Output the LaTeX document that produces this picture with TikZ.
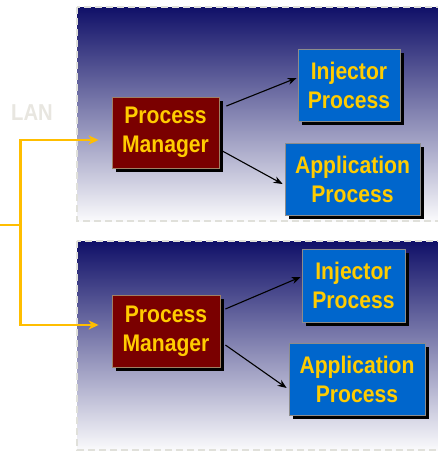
\documentclass[tikz,border=0pt]{standalone}
\usepackage{fontspec}
\newfontfamily\boxfont[FakeStretch=0.88]{Liberation Sans}
\usetikzlibrary{arrows.meta,shadows,calc}
\definecolor{navy}{RGB}{16,16,104}
\definecolor{midlav}{RGB}{150,150,178}
\definecolor{paleend}{RGB}{250,250,252}
\definecolor{pmred}{RGB}{122,0,0}
\definecolor{pmedge}{RGB}{160,128,100}
\definecolor{procblue}{RGB}{0,102,204}
\definecolor{procedge}{RGB}{140,140,140}
\definecolor{txtyellow}{RGB}{255,204,0}
\definecolor{lanyellow}{RGB}{255,190,0}
\definecolor{langray}{RGB}{232,230,224}
\definecolor{dashgray}{RGB}{224,224,218}
\tikzset{
  boxbase/.style={draw, line width=0.8pt, align=center, inner sep=0pt,
    font=\boxfont\bfseries\fontsize{24}{29}\selectfont, text=txtyellow,
    drop shadow={shadow xshift=3.5pt, shadow yshift=-3.5pt, fill=black, opacity=1}},
  mgrbox/.style={boxbase, fill=pmred, draw=pmedge},
  procbox/.style={boxbase, fill=procblue, draw=procedge},
  panel/.style={draw=dashgray, line width=1.2pt, dash pattern=on 7pt off 4pt,
    top color=navy, middle color=midlav, bottom color=paleend},
  blkarr/.style={-{Stealth[length=9pt,width=7pt]}, line width=1.1pt, black},
  yelarr/.style={-{Stealth[length=10pt,width=9pt,inset=3pt]}, line width=2.2pt, lanyellow},
  yelline/.style={line width=2.2pt, lanyellow}
}
\begin{document}
\begin{tikzpicture}[x=1pt,y=-1pt]
\useasboundingbox (0,0) rectangle (438,451);
\fill[white] (0,0) rectangle (438,451);
% panels
\path[panel] (77,7) rectangle (442,221);
\path[panel] (77,241) rectangle (442,450);
% LAN label
\node[font=\boxfont\bfseries\fontsize{23}{27}\selectfont, text=langray, anchor=base west, inner sep=0pt] (lan) at (11,120) {LAN};
% top group
\node[mgrbox, minimum width=107pt, minimum height=71pt] (pm1) at (165.5,132.5) {Process\\Manager};
\node[procbox, minimum width=102pt, minimum height=72pt] (inj1) at (349,85) {Injector\\Process};
\node[procbox, minimum width=135pt, minimum height=72pt] (app1) at (352.5,179) {Application\\Process};
% bottom group
\node[mgrbox, minimum width=108pt, minimum height=72pt] (pm2) at (166,331) {Process\\Manager};
\node[procbox, minimum width=103pt, minimum height=73pt] (inj2) at (353.5,285.5) {Injector\\Process};
\node[procbox, minimum width=136pt, minimum height=72pt] (app2) at (357,379) {Application\\Process};
% black arrows
\draw[blkarr] ([xshift=7pt,yshift=26.5pt]pm1.east) -- ([xshift=-1pt,yshift=7pt]inj1.west);
\draw[blkarr] ([xshift=3pt,yshift=-18.5pt]pm1.east) -- ([xshift=-2pt,yshift=-5pt]app1.west);
\draw[blkarr] ([xshift=5pt,yshift=22pt]pm2.east) -- ([xshift=-1pt,yshift=8.5pt]inj2.west);
\draw[blkarr] ([xshift=5pt,yshift=-14pt]pm2.east) -- ([xshift=-2pt,yshift=-9pt]app2.west);
% LAN connector
\coordinate (lanin) at (0,225);
\coordinate (junc) at (20.5,225);
\draw[yelline] (lanin) -- (junc);
\draw[yelarr] (junc) |- ([xshift=-13pt,yshift=-7.5pt]pm1.west);
\draw[yelarr] (junc) |- ([xshift=-13pt,yshift=6pt]pm2.west);
\end{tikzpicture}
\end{document}
